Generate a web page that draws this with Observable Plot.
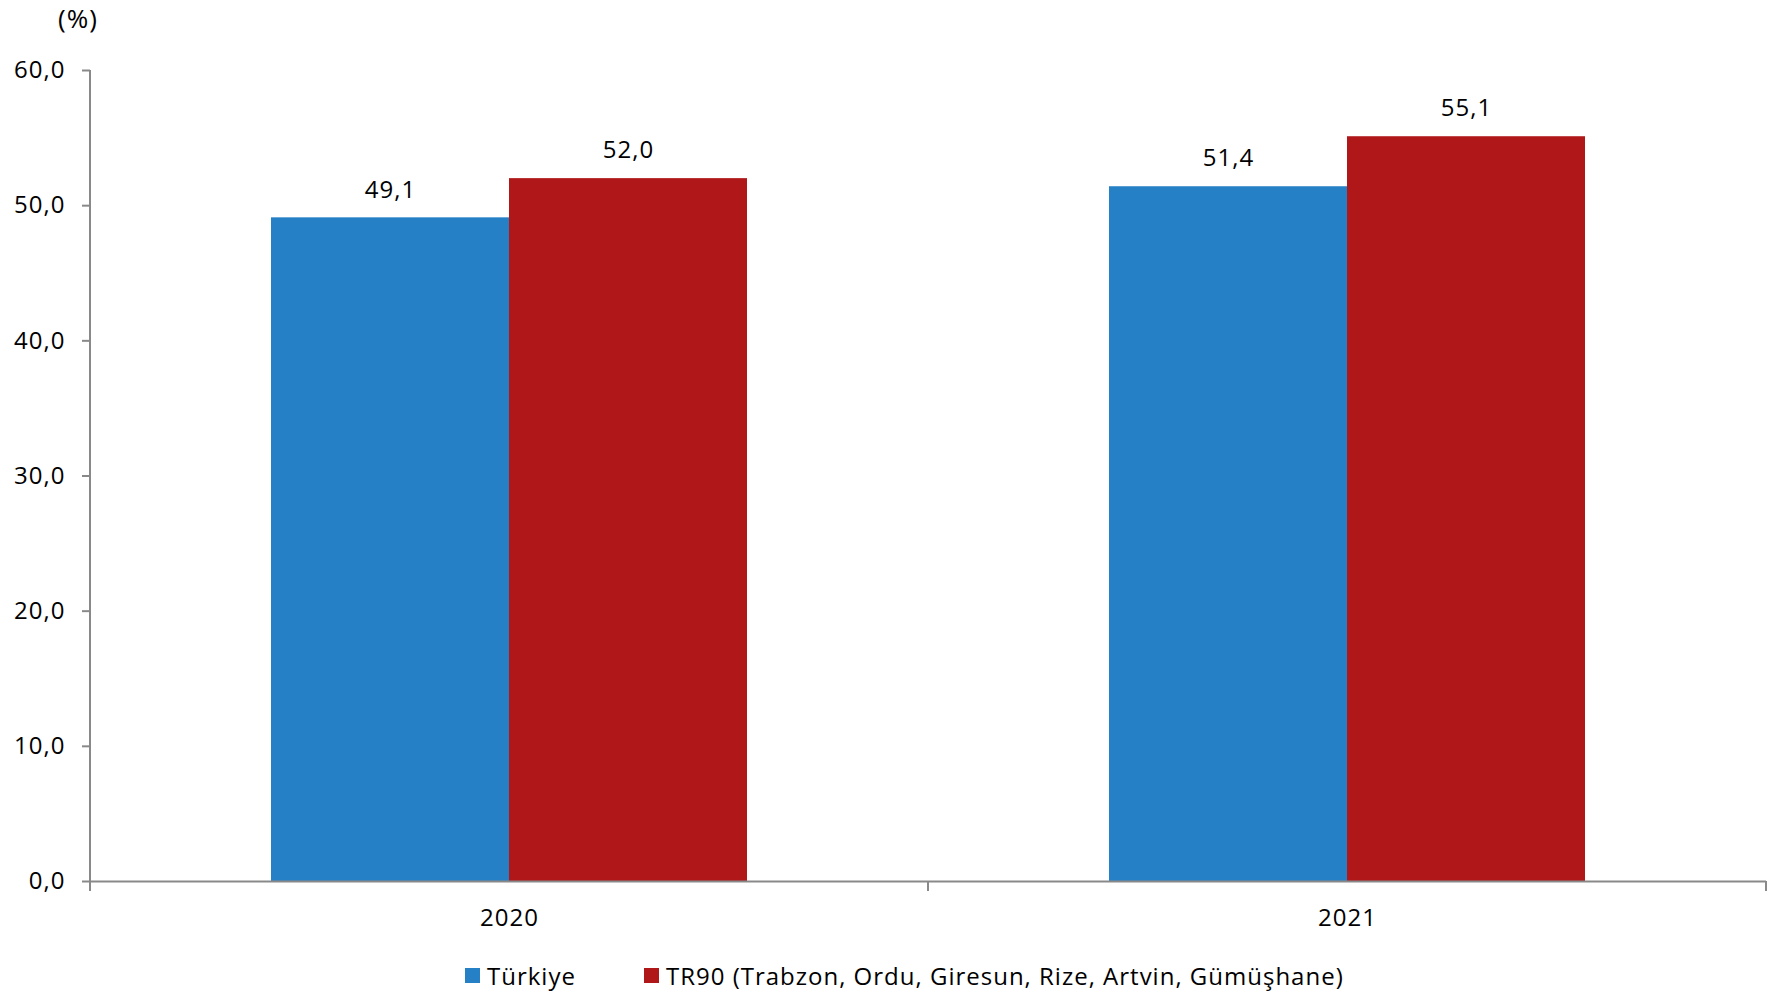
<!DOCTYPE html>
<html>
<head>
<meta charset="utf-8">
<script src="https://cdn.jsdelivr.net/npm/d3@7"></script>
<script src="https://cdn.jsdelivr.net/npm/@observablehq/plot@0.6"></script>
<style>
  html, body { margin: 0; padding: 0; background: #fff; }
  body { width: 1773px; height: 997px; position: relative; overflow: hidden; font-family: "Open Sans", sans-serif; }
  #unit { position: absolute; left: 58px; top: 0px; font-size: 26px; letter-spacing: 1px; color: #000; }
  #legend { position: absolute; left: 465px; top: 959px; display: flex; align-items: center; font-size: 24px; letter-spacing: 1px; color: #000; }
  .sw { width: 15px; height: 15px; display: inline-block; margin-right: 7px; }
  .item { display: flex; align-items: center; margin-right: 68px; }
</style>
</head>
<body>
<div id="chart"></div>
<div id="unit">(%)</div>
<div id="legend"></div>
<script>
const years = ["2020", "2021"];
const seriesNames = ["Türkiye", "TR90 (Trabzon, Ordu, Giresun, Rize, Artvin, Gümüşhane)"];
const turkiyeValues = [49.1, 51.4];
const tr90Values = [52.0, 55.1];
const seriesColors = ["#2680c6", "#af1718"];
const yTicks = [0, 10, 20, 30, 40, 50, 60];

const data = [];
years.forEach((yr, i) => {
  data.push({year: yr, series: seriesNames[0], value: turkiyeValues[i]});
  data.push({year: yr, series: seriesNames[1], value: tr90Values[i]});
});

const fmt = v => v.toFixed(1).replace(".", ",");
const gray = "#898989";

const plot = Plot.plot({
  width: 1773,
  height: 945,
  marginLeft: 89,
  marginRight: 7,
  marginTop: 70,
  marginBottom: 64,
  style: {fontFamily: "Open Sans, sans-serif", fontSize: "24px", letterSpacing: "1px", color: "#000", background: "#fff"},
  fx: {domain: years, padding: 0, label: null},
  x: {domain: seriesNames, paddingInner: 0, paddingOuter: 0.76, axis: null},
  y: {domain: [0, 60], label: null},
  color: {domain: seriesNames, range: seriesColors},
  marks: [
    Plot.barY(data, {fx: "year", x: "series", y: "value", fill: "series", inset: 0}),
    Plot.ruleY([0], {stroke: gray, strokeWidth: 2}),
    Plot.axisY({ticks: yTicks, tickFormat: fmt, tickSize: 8, tickPadding: 17, stroke: gray, strokeWidth: 2, fontSize: 24, label: null}),
    Plot.axisFx({anchor: "bottom", tickSize: 0, tickPadding: 27, fontSize: 24, label: null}),
    Plot.text(data, {fx: "year", x: "series", y: "value", text: d => fmt(d.value), dy: -28, fontSize: 24, fill: "#000"})
  ]
});
document.getElementById("chart").appendChild(plot);

// y-axis line and category boundary ticks derived from Plot's scales
const fxS = plot.scale("fx");
const yS = plot.scale("y");
const svg = d3.select(plot);
const y0 = yS.apply(0), y60 = yS.apply(60);
const left = fxS.apply(years[0]);
svg.append("line").attr("x1", left).attr("x2", left).attr("y1", y60).attr("y2", y0 + 10)
  .attr("stroke", gray).attr("stroke-width", 2);
const bounds = years.map(y => fxS.apply(y)).concat([fxS.apply(years[years.length - 1]) + fxS.bandwidth]);
bounds.slice(1).forEach(b => {
  svg.append("line").attr("x1", b).attr("x2", b).attr("y1", y0).attr("y2", y0 + 10)
    .attr("stroke", gray).attr("stroke-width", 2);
});

const legend = document.getElementById("legend");
seriesNames.forEach((s, i) => {
  const it = document.createElement("div");
  it.className = "item";
  const sw = document.createElement("span");
  sw.className = "sw";
  sw.style.background = seriesColors[i];
  it.appendChild(sw);
  it.appendChild(document.createTextNode(s));
  legend.appendChild(it);
});
</script>
</body>
</html>
